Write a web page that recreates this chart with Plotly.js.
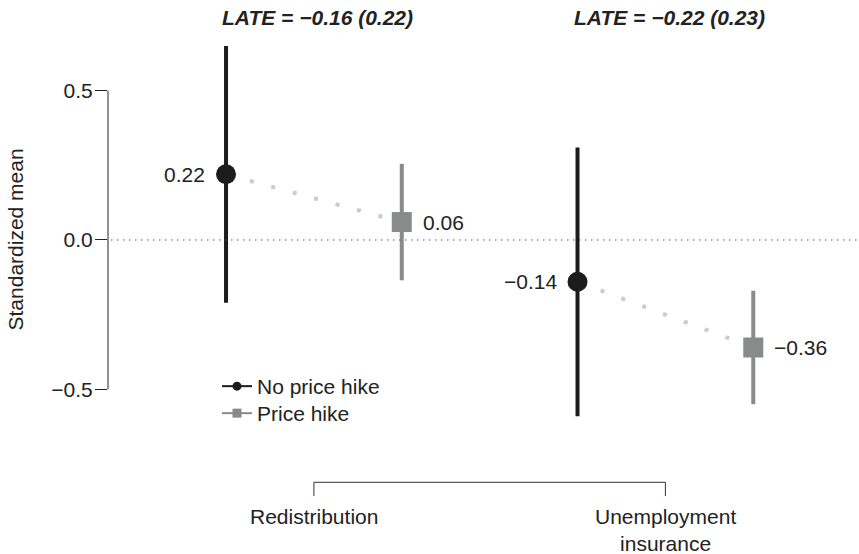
<!DOCTYPE html>
<html>
<head>
<meta charset="utf-8">
<script src="https://cdn.plot.ly/plotly-3.0.1.min.js"></script>
<style>
  html, body { margin: 0; padding: 0; background: #ffffff; }
  #chart { width: 859px; height: 554px; }
</style>
</head>
<body>
<div id="chart"></div>
<script>
// Standardized support by policy domain and treatment arm
const categories = ['Redistribution', 'Unemployment insurance'];
const seriesNames = ['No price hike', 'Price hike'];
const noHikeMean = [0.22, -0.14];
const noHikeHalfCI = [0.43, 0.45];
const hikeMean = [0.06, -0.36];
const hikeHalfCI = [0.195, 0.19];
const lateEstimate = [-0.16, -0.22];
const lateSE = [0.22, 0.23];
const yTickVals = [-0.5, 0, 0.5];
const yTitle = 'Standardized mean';

const FONT = 'Liberation Sans, Arial, Helvetica, sans-serif';
const INK = '#222222';
const BLACK = '#1c1c1c';
const GREY = '#898a8c';
const DOT = '#cbcbcb';

// each domain sits at an integer x, the two arms a quarter step either side
const catPos = categories.map((_, i) => i + 1);
const OFF = 0.25;
const xNo = catPos.map(c => c - OFF);
const xHike = catPos.map(c => c + OFF);

function fmt(v, d) {
  const s = Math.abs(v).toFixed(d);
  return (v < 0 ? '\u2212' : '') + s;
}

// light dotted connector from the control arm to the treated arm
const connX = [], connY = [];
catPos.forEach((c, i) => {
  if (i) { connX.push(null); connY.push(null); }
  connX.push(xNo[i], xHike[i]);
  connY.push(noHikeMean[i], hikeMean[i]);
});

const traces = [
  {
    x: connX, y: connY, type: 'scatter', mode: 'lines',
    line: { color: DOT, width: 4, dash: '0px,2.5px,4px,15.7px' },
    showlegend: false, hoverinfo: 'skip'
  },
  {
    name: seriesNames[0],
    x: xNo, y: noHikeMean, type: 'scatter', mode: 'markers',
    marker: { symbol: 'circle', size: 20, color: BLACK },
    error_y: { type: 'data', array: noHikeHalfCI, color: BLACK, thickness: 4, width: 0 },
    showlegend: false, legendgroup: 'no'
  },
  {
    name: seriesNames[1],
    x: xHike, y: hikeMean, type: 'scatter', mode: 'markers',
    marker: { symbol: 'square', size: 20, color: GREY },
    error_y: { type: 'data', array: hikeHalfCI, color: GREY, thickness: 4, width: 0 },
    showlegend: false, legendgroup: 'hike'
  },
  // legend keys: short line through a small symbol
  {
    name: seriesNames[0], legendgroup: 'no', legend: 'legend',
    x: [null], y: [null], type: 'scatter', mode: 'lines+markers',
    line: { color: BLACK, width: 2 },
    marker: { symbol: 'circle', size: 9, color: BLACK }
  },
  {
    name: seriesNames[1], legendgroup: 'hike', legend: 'legend2',
    x: [null], y: [null], type: 'scatter', mode: 'lines+markers',
    line: { color: GREY, width: 2 },
    marker: { symbol: 'square', size: 9, color: GREY }
  }
];

const H = 554, W = 859, L = 108;
const py = p => 1 - p / H;            // pixel row -> paper fraction
const px = p => (p - L) / (W - L);    // pixel column -> paper fraction

const annotations = [];
// value labels: control arm on the left, treated arm on the right
catPos.forEach((c, i) => {
  annotations.push({
    x: xNo[i], y: noHikeMean[i], xref: 'x', yref: 'y',
    text: fmt(noHikeMean[i], 2), showarrow: false,
    xanchor: 'right', yanchor: 'middle', xshift: -19,
    font: { size: 21, color: INK, family: FONT }
  });
  annotations.push({
    x: xHike[i], y: hikeMean[i], xref: 'x', yref: 'y',
    text: fmt(hikeMean[i], 2), showarrow: false,
    xanchor: 'left', yanchor: 'middle', xshift: 19,
    font: { size: 21, color: INK, family: FONT }
  });
  // LATE header over each domain
  annotations.push({
    x: c, y: py(17.5), xref: 'x', yref: 'paper',
    text: '<b><i>LATE = ' + fmt(lateEstimate[i], 2) + ' (' + lateSE[i].toFixed(2) + ')</i></b>',
    showarrow: false, xanchor: 'center', yanchor: 'middle', xshift: 4,
    font: { size: 21, color: INK, family: FONT }
  });
  // domain name under the bracket (long names wrap after the first word)
  annotations.push({
    x: c, y: py(503), xref: 'x', yref: 'paper',
    text: i === 0 ? categories[i] : categories[i].replace(' ', '<br>'),
    showarrow: false, xanchor: 'center', yanchor: 'top',
    font: { size: 21, color: INK, family: FONT }
  });
});
// axis title, centred on zero
annotations.push({
  x: px(15.5), y: 0, xref: 'paper', yref: 'y',
  text: yTitle, textangle: -90, showarrow: false,
  xanchor: 'center', yanchor: 'middle',
  font: { size: 21, color: INK, family: FONT }
});

const bracketTop = py(482.3), bracketFoot = py(496);
const shapes = [
  // y axis spine only between the outer ticks
  { type: 'line', xref: 'paper', yref: 'y', x0: 0, x1: 0,
    y0: yTickVals[0], y1: yTickVals[yTickVals.length - 1],
    line: { color: INK, width: 1 } },
  // dotted reference line at zero
  { type: 'line', xref: 'paper', yref: 'y', x0: 0.004, x1: 1, y0: 0, y1: 0,
    line: { color: '#555555', width: 1, dash: '1.5px,4.5px' } },
  // bracket joining the two domains
  { type: 'path', xref: 'x', yref: 'paper',
    path: 'M ' + catPos[0] + ' ' + bracketFoot + ' L ' + catPos[0] + ' ' + bracketTop +
          ' L ' + catPos[1] + ' ' + bracketTop + ' L ' + catPos[1] + ' ' + bracketFoot,
    line: { color: '#333333', width: 1 } }
];

// two single-entry legends so the rows can sit closer than the default spacing
const legendBase = {
  xanchor: 'left', yanchor: 'top',
  bgcolor: 'rgba(0,0,0,0)', borderwidth: 0, tracegroupgap: 0,
  font: { size: 21, color: INK, family: FONT }
};

const layout = {
  width: W, height: H,
  margin: { l: L, r: 0, t: 0, b: 0 },
  paper_bgcolor: '#ffffff', plot_bgcolor: '#ffffff',
  font: { family: FONT, size: 21, color: INK },
  showlegend: true,
  legend: Object.assign({ x: px(217), y: py(366) }, legendBase),
  legend2: Object.assign({ x: px(217), y: py(393) }, legendBase),
  xaxis: {
    range: [0.4142, 2.5508], visible: false, fixedrange: true
  },
  yaxis: {
    range: [-1.0516, 0.8037],
    tickvals: yTickVals, tickformat: '.1f',
    ticks: 'outside', ticklen: 12, tickwidth: 1, tickcolor: INK,
    ticklabelstandoff: -2,
    tickfont: { size: 21, color: INK, family: FONT },
    showline: false, showgrid: false, zeroline: false, fixedrange: true
  },
  shapes: shapes,
  annotations: annotations
};

Plotly.newPlot('chart', traces, layout, { displayModeBar: false, staticPlot: true });
</script>
</body>
</html>
